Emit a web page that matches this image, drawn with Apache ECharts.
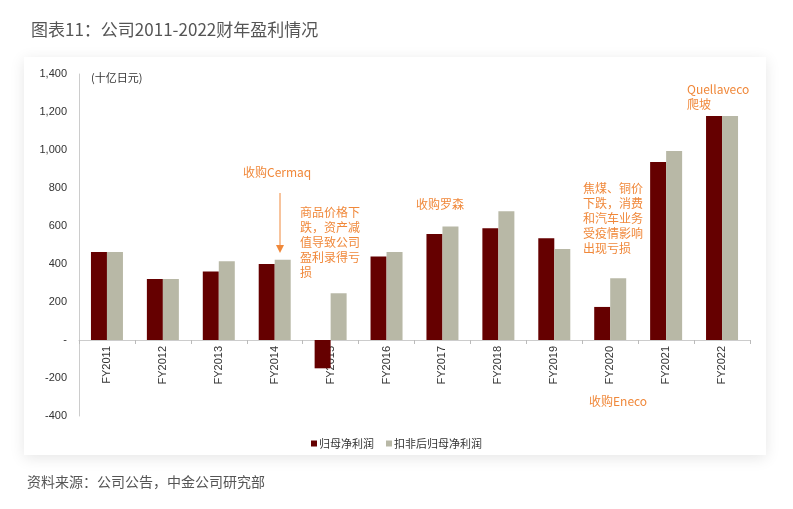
<!DOCTYPE html>
<html>
<head>
<meta charset="utf-8">
<title>公司2011-2022财年盈利情况</title>
<script src="https://cdn.jsdelivr.net/npm/echarts@6/dist/echarts.min.js"></script>
<style>
    body { margin: 0; background: #fff; }
    #card { position: absolute; left: 24px; top: 57px; width: 742px; height: 398px;
            background: #fff; box-shadow: 0 3px 14px rgba(0,0,0,0.10); }
    #main { position: absolute; left: 0; top: 0; width: 793px; height: 509px; }
</style>
</head>
<body>
<div id="card"></div>
<div id="main"></div>
<script>
    // 数据（十亿日元）
    var years = ['FY2011', 'FY2012', 'FY2013', 'FY2014', 'FY2015', 'FY2016',
                 'FY2017', 'FY2018', 'FY2019', 'FY2020', 'FY2021', 'FY2022'];
    var netProfit = [463, 321, 361, 400, -149, 440, 558, 588, 535, 174, 937, 1179];
    var adjProfit = [463, 321, 414, 423, 246, 463, 598, 677, 479, 325, 995, 1179];
    var seriesNames = ['归母净利润', '扣非后归母净利润'];
    var yMin = -400, yMax = 1400;

    var orange = '#F0883A';
    var cjk = '"Noto Sans CJK SC", "Liberation Sans", sans-serif';

    var gridTop = 74, gridBottom = 93, chartH = 509;
    // x 轴放在 0 值处：按比例把轴上移
    var plotH = chartH - gridTop - gridBottom;
    var zeroShift = plotH * (0 - yMin) / (yMax - yMin);

    function note(x, y, text) {
        return {
            type: 'text',
            style: {
                x: x, y: y, text: text, fill: orange,
                fontSize: 12, lineHeight: 15, fontFamily: cjk
            }
        };
    }

    var myChart = echarts.init(document.getElementById('main'));
    myChart.setOption({
        animation: false,
        textStyle: { fontFamily: cjk },
        title: {
            text: '图表11：公司2011-2022财年盈利情况',
            left: 26, top: 16,
            textStyle: { fontSize: 17, fontWeight: 'normal', color: '#555', fontFamily: cjk }
        },
        legend: {
            data: seriesNames,
            top: 433, left: 'center',
            icon: 'rect', itemWidth: 6, itemHeight: 6, itemGap: 12,
            textStyle: { fontSize: 11, color: '#333', padding: [0, 0, 0, -3] }
        },
        grid: { left: 79, right: 43, top: gridTop, bottom: gridBottom },
        xAxis: {
            type: 'category',
            data: years,
            offset: -zeroShift,
            axisLine: { onZero: false, lineStyle: { color: '#ccc' } },
            axisTick: { show: true, length: 4, lineStyle: { color: '#bbb' } },
            axisLabel: { rotate: 90, margin: 6, fontSize: 11, color: '#333',
                         fontFamily: '"Liberation Sans", sans-serif' }
        },
        yAxis: {
            type: 'value',
            min: yMin, max: yMax, interval: 200,
            axisLine: { show: true, lineStyle: { color: '#ccc' } },
            axisTick: { show: false },
            splitLine: { show: false },
            axisLabel: {
                fontSize: 11, color: '#333', margin: 12,
                fontFamily: '"Liberation Sans", sans-serif',
                formatter: function (v) {
                    if (v === 0) return '-';
                    return v.toString().replace(/\B(?=(\d{3})+(?!\d))/g, ',');
                }
            }
        },
        series: [{
            name: seriesNames[0],
            type: 'bar',
            data: netProfit,
            barWidth: 16,
            barGap: '0%',
            itemStyle: { color: '#650000' }
        }, {
            name: seriesNames[1],
            type: 'bar',
            data: adjProfit,
            barWidth: 16,
            itemStyle: { color: '#B8B8A6' }
        }],
        graphic: [
            { type: 'text', style: { x: 91, y: 72, text: '(十亿日元)', fill: '#333', fontSize: 11, fontFamily: cjk } },
            note(243, 165, '收购Cermaq'),
            { type: 'line', shape: { x1: 280, y1: 193, x2: 280, y2: 246 }, style: { stroke: orange, lineWidth: 1 } },
            { type: 'polygon', shape: { points: [[276, 245], [284, 245], [280, 253]] }, style: { fill: orange } },
            note(300, 205, '商品价格下\n跌，资产减\n值导致公司\n盈利录得亏\n损'),
            note(416, 197, '收购罗森'),
            note(583, 181, '焦煤、铜价\n下跌，消费\n和汽车业务\n受疫情影响\n出现亏损'),
            note(687, 82, 'Quellaveco\n爬坡'),
            note(589, 394, '收购Eneco'),
            { type: 'text', style: { x: 27, y: 475, text: '资料来源：公司公告，中金公司研究部', fill: '#555', fontSize: 14, fontFamily: cjk } }
        ]
    });
</script>
</body>
</html>
